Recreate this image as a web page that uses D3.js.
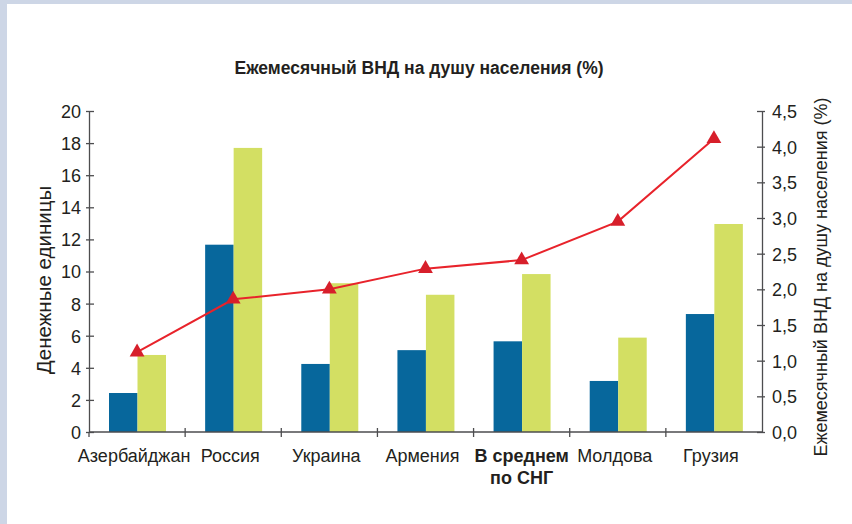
<!DOCTYPE html>
<html>
<head>
<meta charset="utf-8">
<script src="https://cdn.jsdelivr.net/npm/d3@7/dist/d3.min.js"></script>
<style>
    body { margin: 0; background: #fff; overflow: hidden; }
    #frame-top { position: absolute; left: 0; top: 0; width: 852px; height: 4px; background: #cdd6e6; }
    #frame-left { position: absolute; left: 0; top: 0; width: 7px; height: 524px; background: #cdd6e6; }
    #chart { position: absolute; left: 0; top: 0; }
</style>
</head>
<body>
<div id="frame-top"></div>
<div id="frame-left"></div>
<div id="chart"></div>
<script>
const categories = ["Азербайджан", "Россия", "Украина", "Армения", "В среднем|по СНГ", "Молдова", "Грузия"];
const seriesNames = ["blue", "green"];
const blueValues = [2.43, 11.67, 4.24, 5.1, 5.65, 3.18, 7.35];
const greenValues = [4.8, 17.7, 9.27, 8.55, 9.84, 5.88, 12.96];
const gniShare = [1.12, 1.86, 2.0, 2.29, 2.41, 2.95, 4.11];
const leftTicks = [0, 2, 4, 6, 8, 10, 12, 14, 16, 18, 20];
const rightTicks = [0, 0.5, 1, 1.5, 2, 2.5, 3, 3.5, 4, 4.5];

const width = 852, height = 524;
const margin = { top: 111, right: 90, bottom: 92, left: 89 };
const innerWidth = width - margin.left - margin.right;
const innerHeight = height - margin.top - margin.bottom;
const colors = { blue: "#07679c", green: "#d3df63" };
const font = "'Liberation Sans', Arial, sans-serif";
const textColor = "#231f20";

const svg = d3.select("#chart").append("svg")
    .attr("width", width)
    .attr("height", height)
    .style("display", "block");

const g = svg.append("g")
    .attr("transform", `translate(${margin.left},${margin.top})`);

const x = d3.scaleBand().domain(categories).range([0, innerWidth]);
const xSub = d3.scaleBand().domain(seriesNames).range([20, 77]);
const yLeft = d3.scaleLinear().domain([0, 20]).range([innerHeight, 0]);
const yRight = d3.scaleLinear().domain([0, 4.5]).range([innerHeight, 0]);

// bars
const rows = categories.map((c, i) => ({ cat: c, blue: blueValues[i], green: greenValues[i] }));
const groups = g.selectAll(".grp").data(rows).enter().append("g")
    .attr("class", "grp")
    .attr("transform", d => `translate(${x(d.cat)},0)`);

groups.selectAll("rect")
    .data(d => seriesNames.map(s => ({ key: s, value: d[s] })))
    .enter().append("rect")
    .attr("x", d => xSub(d.key))
    .attr("y", d => yLeft(d.value))
    .attr("width", xSub.bandwidth())
    .attr("height", d => innerHeight - yLeft(d.value))
    .attr("fill", d => colors[d.key]);

// axes
const axisColor = "#4d4d4f";

const left = g.append("g")
    .call(d3.axisLeft(yLeft).tickValues(leftTicks).tickSize(0).tickPadding(8))
    .attr("font-size", 18).attr("font-family", font);
left.select(".domain").attr("stroke", axisColor).attr("stroke-width", 1.3);
left.selectAll(".tick line").attr("x1", -3).attr("x2", 5).attr("stroke", axisColor).attr("stroke-width", 1.3);
left.selectAll(".tick text").attr("fill", textColor).attr("dy", "0.36em");

const right = g.append("g")
    .attr("transform", `translate(${innerWidth},0)`)
    .call(d3.axisRight(yRight).tickValues(rightTicks).tickSize(0).tickPadding(10)
        .tickFormat(d => d3.format(".1f")(d).replace(".", ",")))
    .attr("font-size", 18).attr("font-family", font);
right.select(".domain").attr("stroke", axisColor).attr("stroke-width", 1.3);
right.selectAll(".tick line").attr("x1", -5).attr("x2", 3).attr("stroke", axisColor).attr("stroke-width", 1.3);
right.selectAll(".tick text").attr("fill", textColor).attr("dy", "0.36em");

const bottom = g.append("g")
    .attr("transform", `translate(0,${innerHeight})`);
bottom.append("line")
    .attr("x1", 0).attr("x2", innerWidth)
    .attr("stroke", axisColor).attr("stroke-width", 1.3);
bottom.selectAll(".sep")
    .data(categories.slice(1))
    .enter().append("line")
    .attr("x1", d => x(d)).attr("x2", d => x(d))
    .attr("y1", -4).attr("y2", 5)
    .attr("stroke", axisColor).attr("stroke-width", 1.3);
bottom.append("line").attr("x1", 0).attr("x2", 0).attr("y1", 0).attr("y2", 5)
    .attr("stroke", axisColor).attr("stroke-width", 1.3);

const labels = bottom.selectAll(".cat")
    .data(categories)
    .enter().append("text")
    .attr("class", "cat")
    .attr("x", d => x(d) + x.bandwidth() / 2 - 3)
    .attr("y", 30)
    .attr("text-anchor", "middle")
    .attr("font-family", font)
    .attr("font-size", 18)
    .attr("fill", textColor)
    .attr("font-weight", d => d.includes("|") ? "bold" : "normal");
labels.each(function (d) {
    const parts = d.split("|");
    parts.forEach((p, i) => {
        d3.select(this).append("tspan")
            .attr("x", x(d) + x.bandwidth() / 2 - (parts.length > 1 ? 0 : 3))
            .attr("dy", i === 0 ? 0 : 21.5)
            .text(p);
    });
});

// line series
const line = d3.line()
    .x((d, i) => x(categories[i]) + x.bandwidth() / 2)
    .y(d => yRight(d));

g.append("path")
    .datum(gniShare)
    .attr("d", line)
    .attr("fill", "none")
    .attr("stroke", "#e8232b")
    .attr("stroke-width", 2);

g.selectAll(".marker")
    .data(gniShare)
    .enter().append("path")
    .attr("class", "marker")
    .attr("d", d3.symbol().type(d3.symbolTriangle).size(95))
    .attr("transform", (d, i) => `translate(${x(categories[i]) + x.bandwidth() / 2},${yRight(d)})`)
    .attr("fill", "#d71f2b");

// titles
svg.append("text")
    .attr("x", 419)
    .attr("y", 74)
    .attr("text-anchor", "middle")
    .attr("font-family", font)
    .attr("font-size", 17.5)
    .attr("font-weight", "bold")
    .attr("fill", textColor)
    .text("Ежемесячный ВНД на душу населения (%)");

svg.append("text")
    .attr("transform", "translate(51,280) rotate(-90)")
    .attr("text-anchor", "middle")
    .attr("font-family", font)
    .attr("font-size", 20.5)
    .attr("fill", textColor)
    .text("Денежные единицы");

svg.append("text")
    .attr("transform", "translate(827,277) rotate(-90)")
    .attr("text-anchor", "middle")
    .attr("font-family", font)
    .attr("font-size", 18)
    .attr("fill", textColor)
    .text("Ежемесячный ВНД на душу населения (%)");
</script>
</body>
</html>
